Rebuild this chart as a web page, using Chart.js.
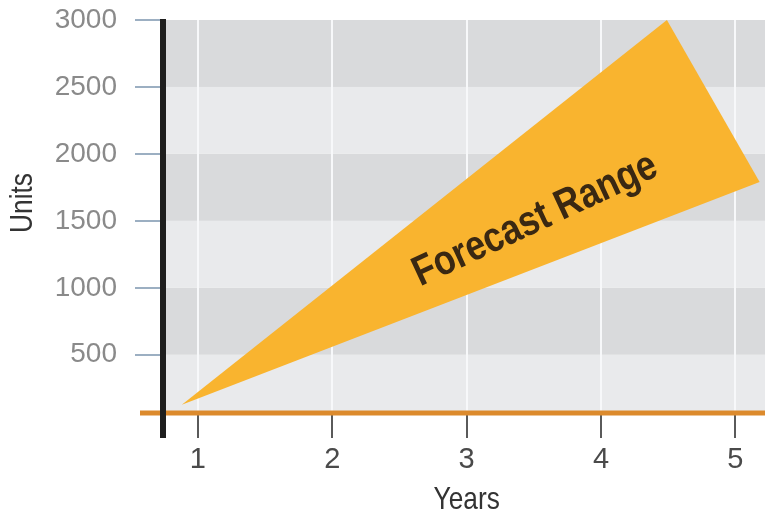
<!DOCTYPE html>
<html>
<head>
<meta charset="utf-8">
<script src="https://cdn.jsdelivr.net/npm/chart.js@4.4.1/dist/chart.umd.min.js"></script>
<style>
  body { margin: 0; background: #fff; }
</style>
</head>
<body>
<canvas id="forecast" width="765" height="515"></canvas>
<script>
// forecast range polygon (years, units)
var rangeYears = [0.88, 4.49, 5.18, 0.88];
var rangeUnits = [127, 3000, 1790, 127];
var xTicks = [1, 2, 3, 4, 5];
var yTicks = [500, 1000, 1500, 2000, 2500, 3000];
var rangeLabel = 'Forecast Range';

var sans = "'Liberation Sans', Arial, sans-serif";

// condensed text: regular font squeezed horizontally
function squeezed(ctx, text, x, y, angle, sx) {
    ctx.save();
    ctx.translate(x, y);
    ctx.rotate(angle);
    ctx.scale(sx, 1);
    ctx.fillText(text, 0, 0);
    ctx.restore();
}

var decor = {
    id: 'decor',
    beforeDraw: function(chart) {
        var ctx = chart.ctx;
        var a = chart.chartArea;
        var y = chart.scales.y;
        ctx.save();
        var prev = y.min;
        y.ticks.forEach(function(t, i) {
            var top = y.getPixelForValue(t.value);
            var bot = y.getPixelForValue(prev);
            ctx.fillStyle = (i % 2 == 1) ? '#d9dadc' : '#e9eaec';
            ctx.fillRect(a.left, top, a.right - a.left, bot - top);
            prev = t.value;
        });
        ctx.restore();
    },
    afterDatasetsDraw: function(chart) {
        var ctx = chart.ctx;
        var x = chart.scales.x;
        var y = chart.scales.y;
        ctx.save();
        ctx.fillStyle = '#3a2812';
        ctx.font = 'bold 42px ' + sans;
        ctx.textAlign = 'center';
        ctx.textBaseline = 'middle';
        squeezed(ctx, rangeLabel, x.getPixelForValue(3.51), y.getPixelForValue(1505), -25 * Math.PI / 180, 0.84);
        ctx.restore();
    },
    afterDraw: function(chart) {
        var ctx = chart.ctx;
        var a = chart.chartArea;
        var x = chart.scales.x;
        ctx.save();
        // orange baseline
        ctx.strokeStyle = '#dc8a2c';
        ctx.lineWidth = 5;
        ctx.beginPath();
        ctx.moveTo(140, a.bottom);
        ctx.lineTo(a.right, a.bottom);
        ctx.stroke();
        // black value axis
        ctx.strokeStyle = '#1e1e1e';
        ctx.lineWidth = 6;
        ctx.beginPath();
        ctx.moveTo(a.left, a.top - 1);
        ctx.lineTo(a.left, a.bottom + 25);
        ctx.stroke();
        // axis titles
        ctx.fillStyle = '#333';
        ctx.font = '32px ' + sans;
        ctx.textAlign = 'center';
        ctx.textBaseline = 'middle';
        squeezed(ctx, 'Years', x.getPixelForValue(3), 500, 0, 0.82);
        squeezed(ctx, 'Units', 23, 203, -Math.PI / 2, 0.82);
        ctx.restore();
    }
};

var ctx = document.getElementById('forecast').getContext('2d');

var data = {
    datasets: [{
        label: rangeLabel,
        data: rangeYears.map(function(v, i) { return {x: v, y: rangeUnits[i]}; }),
        backgroundColor: '#f9b42f',
        borderWidth: 0,
        pointRadius: 0,
        fill: 'shape',
        tension: 0
    }]
};

var options = {
    responsive: false,
    animation: false,
    layout: { padding: { top: 20, right: 0, left: 0, bottom: 0 } },
    plugins: {
        legend: { display: false },
        tooltip: { enabled: false }
    },
    scales: {
        x: {
            type: 'linear',
            min: 0.74,
            max: 5.22,
            afterBuildTicks: function(s) {
                s.ticks = xTicks.map(function(v) { return {value: v}; });
            },
            afterFit: function(s) { s.height = 102; },
            border: { display: false },
            grid: {
                color: '#f7f8fa',
                lineWidth: 2,
                tickColor: '#5a5a5a',
                tickWidth: 2,
                tickLength: 25
            },
            ticks: {
                autoSkip: false,
                maxRotation: 0,
                padding: 5,
                color: '#4a4a4a',
                font: { family: 'Liberation Sans', size: 29 },
                callback: function(v) { return String(v); }
            }
        },
        y: {
            type: 'linear',
            min: 65,
            max: 3000,
            afterBuildTicks: function(s) {
                s.ticks = yTicks.map(function(v) { return {value: v}; });
            },
            afterFit: function(s) {
                s.width = 163;
                s.paddingTop = 0;
                s.paddingBottom = 0;
            },
            border: { display: false },
            grid: {
                drawOnChartArea: false,
                color: '#9cafc2',
                lineWidth: 2,
                tickLength: 28
            },
            ticks: {
                autoSkip: false,
                padding: 18,
                color: '#8a8a8a',
                font: { family: 'Liberation Sans', size: 28 },
                callback: function(v) { return String(v); }
            }
        }
    }
};

var graph = new Chart(ctx, {
    type: 'line',
    data: data,
    options: options,
    plugins: [decor]
});
</script>
</body>
</html>
